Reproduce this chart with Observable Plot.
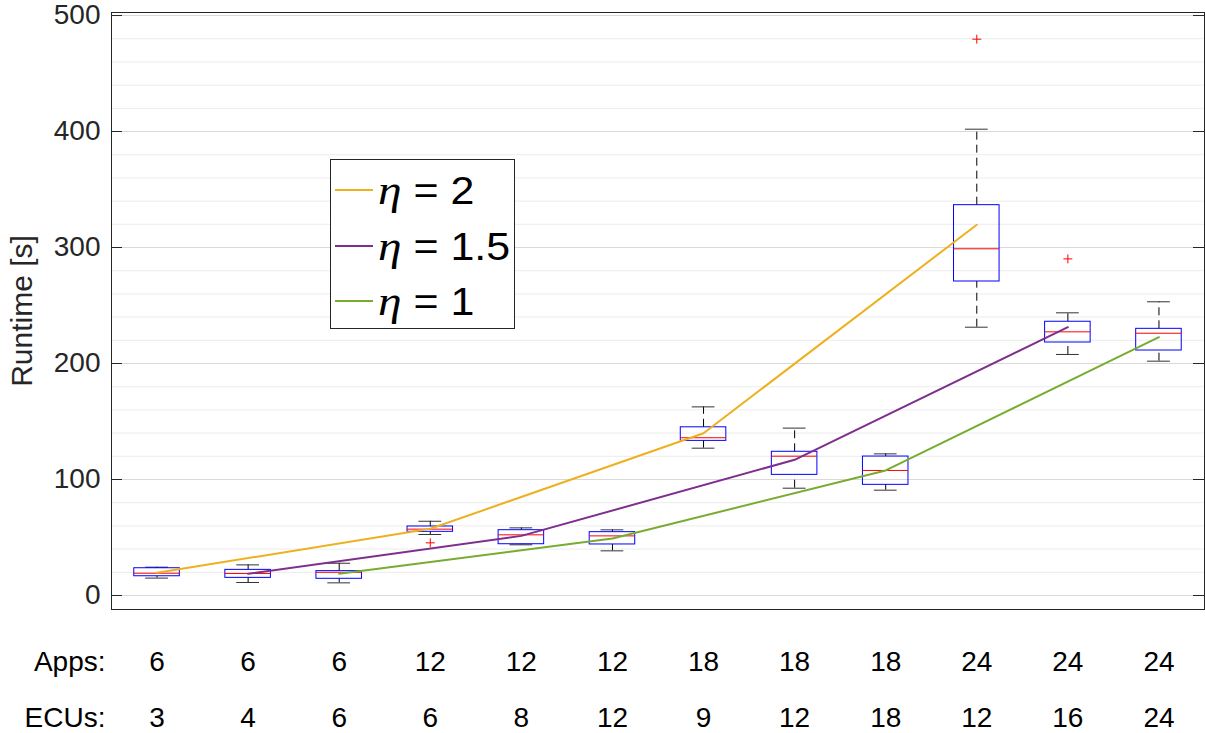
<!DOCTYPE html>
<html><head><meta charset="utf-8">
<script src="https://cdn.jsdelivr.net/npm/d3@7"></script>
<script src="https://cdn.jsdelivr.net/npm/@observablehq/plot@0.6"></script>
<style>
body{margin:0;background:#fff;}
#wrap{position:relative;width:1205px;height:733px;}
#legend{position:absolute;left:330px;top:159px;width:183px;height:168px;border:1px solid #262626;background:#fff;}
.row{position:absolute;left:0;height:40px;display:flex;align-items:center;}
.sw{width:38px;height:2px;margin-left:4px;}
.lab{display:inline-block;margin-left:5px;font-family:"Liberation Sans",Arial,sans-serif;font-size:38px;color:#000;line-height:40px;white-space:nowrap;transform:scaleX(1.13);transform-origin:left center;}
.eta{font-family:"Liberation Serif","DejaVu Serif",serif;font-style:italic;font-size:42px;}
</style></head>
<body><div id="wrap"></div>
<script>
// ---- data ----
const apps = [6, 6, 6, 12, 12, 12, 18, 18, 18, 24, 24, 24];
const ecus = [3, 4, 6, 6, 8, 12, 9, 12, 18, 12, 16, 24];
const whiskerLow  = [15, 11.2, 10.9, 52.6, 43.7, 38.5, 127, 92.5, 90.8, 231.3, 207.8, 202];
const q1          = [16.6, 15.2, 14.4, 54.9, 44.2, 44, 133.3, 104, 95.4, 270.7, 218.1, 211.2];
const median      = [19.2, 19, 20, 57.2, 52.3, 51.4, 136, 120.1, 107.8, 298.9, 227.3, 226.1];
const q3          = [23.5, 22.1, 21, 59.5, 56.3, 54.6, 145, 123.9, 119.8, 336.5, 236, 229.9];
const whiskerHigh = [24.4, 26.4, 27.8, 64, 58.3, 56.6, 162.6, 144.3, 122.1, 402, 243.7, 253.2];
const outlierPos = [4, 10, 11];
const outlierVal = [45.4, 479.6, 290.2];
const etaLabels = ["2", "1.5", "1"];
const etaPos = [[1, 4, 7, 10], [2, 5, 8, 11], [3, 6, 9, 12]];
const etaVal = [[19.6, 57.5, 139.9, 319.6], [18.7, 51.4, 117, 231.3], [18.7, 49.1, 107.8, 222.7]];
const etaColors = ["#EDB120", "#7E2F8E", "#77AC30"];
const rowLabels = ["Apps:", "ECUs:"];
const yLabel = "Runtime [s]";
const yMajor = [0, 100, 200, 300, 400, 500];
const yMinor = [20, 40, 60, 80, 120, 140, 160, 180, 220, 240, 260, 280, 320, 340, 360, 380, 420, 440, 460, 480];

// ---- tables ----
const boxes = apps.map((a, i) => ({pos: i + 1, apps: a, ecus: ecus[i], lo: whiskerLow[i], q1: q1[i], med: median[i], q3: q3[i], hi: whiskerHigh[i]}));
const outliers = outlierPos.map((p, i) => ({pos: p, value: outlierVal[i]}));
const lines = etaLabels.flatMap((e, k) => etaPos[k].map((p, j) => ({eta: e, pos: p, value: etaVal[k][j]})));

const W = 1205, H = 733, ML = 111, MR = 1, MT = 12, MB = 124;
const frameW = W - ML - MR;
const boxHalf = 0.25, capHalf = 0.125, tickLen = 11;
const font = '"Liberation Sans", Arial, Helvetica, sans-serif';

const chart = Plot.plot({
  width: W, height: H,
  marginLeft: ML, marginRight: MR, marginTop: MT, marginBottom: MB,
  style: {fontFamily: font, fontSize: "28px", color: "#262626", background: "#fff", overflow: "visible"},
  x: {domain: [0.5, 12.5], axis: null},
  y: {domain: [-12.07, 502.6]},
  color: {domain: etaLabels, range: etaColors},
  marks: [
    Plot.gridY(yMinor, {stroke: "#ececec", strokeOpacity: 1}),
    Plot.gridY(yMajor, {stroke: "#d9d9d9", strokeOpacity: 1}),
    Plot.axisY({ticks: yMajor, tickSize: 0, tickPadding: 11, label: null, fill: "#262626"}),
    Plot.tickY(yMajor, {y: d => d, stroke: "#262626", insetRight: frameW - tickLen}),
    Plot.tickY(yMajor, {y: d => d, stroke: "#262626", insetLeft: frameW - tickLen}),
    Plot.frame({stroke: "#262626"}),
    // whiskers
    Plot.ruleX(boxes, {x: "pos", y1: "q3", y2: "hi", stroke: "#000", strokeDasharray: "8,5"}),
    Plot.ruleX(boxes, {x: "pos", y1: "lo", y2: "q1", stroke: "#000", strokeDasharray: "8,5"}),
    Plot.ruleY(boxes, {y: "hi", x1: d => d.pos - capHalf, x2: d => d.pos + capHalf, stroke: "#333"}),
    Plot.ruleY(boxes, {y: "lo", x1: d => d.pos - capHalf, x2: d => d.pos + capHalf, stroke: "#333"}),
    // boxes
    Plot.rect(boxes, {x1: d => d.pos - boxHalf, x2: d => d.pos + boxHalf, y1: "q1", y2: "q3", stroke: "#0000FF", fill: "none"}),
    Plot.ruleY(boxes, {y: "med", x1: d => d.pos - boxHalf, x2: d => d.pos + boxHalf, stroke: "#FF0000"}),
    Plot.dot(outliers, {x: "pos", y: "value", symbol: "plus", r: 3, stroke: "#FF0000", strokeWidth: 1}),
    // eta lines
    Plot.line(lines, {x: "pos", y: "value", z: "eta", stroke: "eta", strokeWidth: 2}),
    // category rows
    Plot.text(boxes, {x: "pos", text: d => String(d.apps), frameAnchor: "bottom", dy: 61, lineAnchor: "bottom", fill: "#000"}),
    Plot.text(boxes, {x: "pos", text: d => String(d.ecus), frameAnchor: "bottom", dy: 117, lineAnchor: "bottom", fill: "#000"}),
    Plot.text([rowLabels[0]], {text: d => d, frameAnchor: "bottom-left", dx: -6, dy: 61, textAnchor: "end", lineAnchor: "bottom", fill: "#000"}),
    Plot.text([rowLabels[1]], {text: d => d, frameAnchor: "bottom-left", dx: -6, dy: 117, textAnchor: "end", lineAnchor: "bottom", fill: "#000"}),
    Plot.text([yLabel], {text: d => d, frameAnchor: "left", rotate: -90, dx: -89, textAnchor: "middle", lineAnchor: "middle", fontSize: 30, fill: "#262626"})
  ]
});

const wrap = document.getElementById("wrap");
wrap.appendChild(chart);

// legend
const legend = document.createElement("div");
legend.id = "legend";
const rowTops = [10, 66, 121];
etaLabels.forEach((e, k) => {
  const row = document.createElement("div");
  row.className = "row";
  row.style.top = rowTops[k] + "px";
  const sw = document.createElement("span");
  sw.className = "sw";
  sw.style.background = etaColors[k];
  const lab = document.createElement("span");
  lab.className = "lab";
  const eta = document.createElement("span");
  eta.className = "eta";
  eta.textContent = "η";
  lab.appendChild(eta);
  lab.appendChild(document.createTextNode(" = " + e));
  row.appendChild(sw);
  row.appendChild(lab);
  legend.appendChild(row);
});
wrap.appendChild(legend);
</script>
</body></html>
